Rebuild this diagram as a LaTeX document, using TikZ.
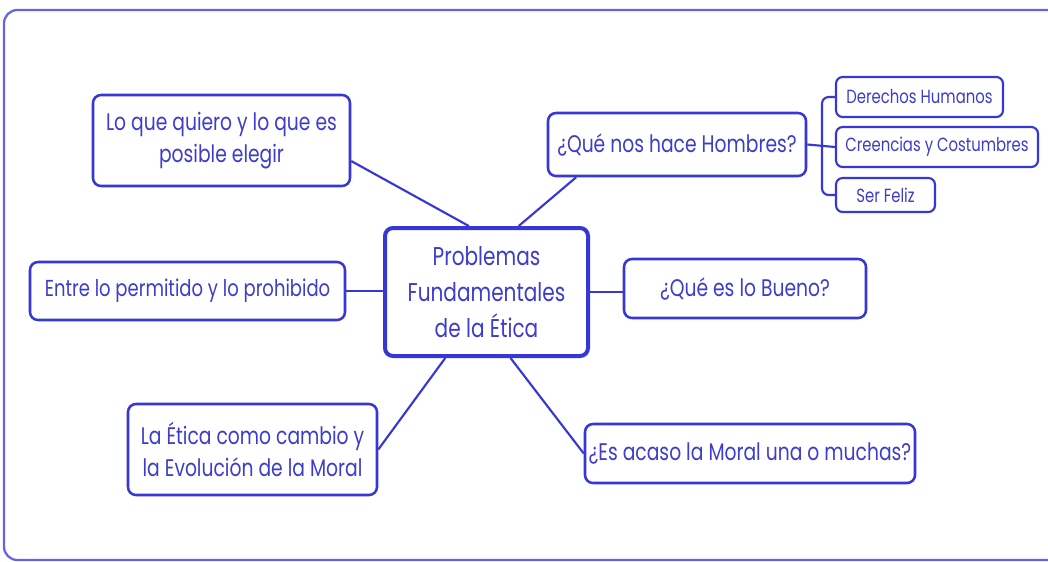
\documentclass[tikz,border=0pt]{standalone}
\usepackage{fontspec}
\setmainfont{Poppins}[FakeStretch=0.78]
\definecolor{ln}{RGB}{55,55,215}
\definecolor{tx}{RGB}{60,60,205}
\definecolor{fr}{RGB}{100,100,235}
\begin{document}
\begin{tikzpicture}[x=0.75pt,y=-0.75pt,
  box/.style={draw=ln,line width=1.9pt,rounded corners=6pt,text=tx,align=center,inner sep=0pt,font=\fontsize{18}{24.5}\selectfont},
  sub/.style={draw=ln,line width=1.6pt,rounded corners=5pt,text=tx,align=center,inner sep=0pt,font=\fontsize{14.3}{16}\selectfont},
  conn/.style={draw=ln,line width=1.6pt}]
\useasboundingbox (0,0) rectangle (1048,561);
\draw[fr,line width=1.7pt,rounded corners=10pt] (1070,10) -- (4,10) -- (4,560) -- (1070,560);
\node[box,minimum width=192.75pt,minimum height=68.25pt] (A) at (221.5,140.5) {Lo que quiero y lo que es\\posible elegir};
\node[box,minimum width=236.25pt,minimum height=43.5pt,font=\fontsize{17.3}{22}\selectfont] (B) at (187.5,291) {Entre lo permitido y lo prohibido};
\node[box,line width=3pt,minimum width=152.25pt,minimum height=96pt,font=\fontsize{19.3}{27}\selectfont] (ctr) at (486.5,292) {Problemas\\Fundamentales\\de la Ética};
\node[box,minimum width=186.75pt,minimum height=68.25pt] (C) at (252.5,449.5) {La Ética como cambio y\\la Evolución de la Moral};
\node[box,minimum width=193.5pt,minimum height=47.25pt] (D) at (677,144.5) {¿Qué nos hace Hombres?};
\node[box,minimum width=181.5pt,minimum height=44.25pt] (E) at (745,288.5) {¿Qué es lo Bueno?};
\node[box,minimum width=247.5pt,minimum height=44.25pt] (F) at (750,453.5) {¿Es acaso la Moral una o muchas?};
\node[sub,minimum width=125.25pt,minimum height=30pt] (der) at (919.5,97) {Derechos Humanos};
\node[sub,minimum width=151.5pt,minimum height=30pt] (cre) at (937,147) {Creencias y Costumbres};
\node[sub,minimum width=74.25pt,minimum height=25.5pt] (ser) at (885.5,195) {Ser Feliz};
\draw[conn] (A.-9.5) -- (ctr.105.3);
\draw[conn] (D.198.3) -- (ctr.64.5);
\draw[conn] (B.east) -- (B.east -| ctr.west);
\draw[conn] (ctr.east) -- (ctr.east -| E.west);
\draw[conn] (ctr.238.3) -- (C.east);
\draw[conn] (ctr.290.2) -- (F.west);
\coordinate (bx) at (822,147);
\draw[conn] (D.east) -- (cre.west);
\draw[conn,rounded corners=5pt] (der.west) -| (bx) |- (ser.west);
\end{tikzpicture}
\end{document}
